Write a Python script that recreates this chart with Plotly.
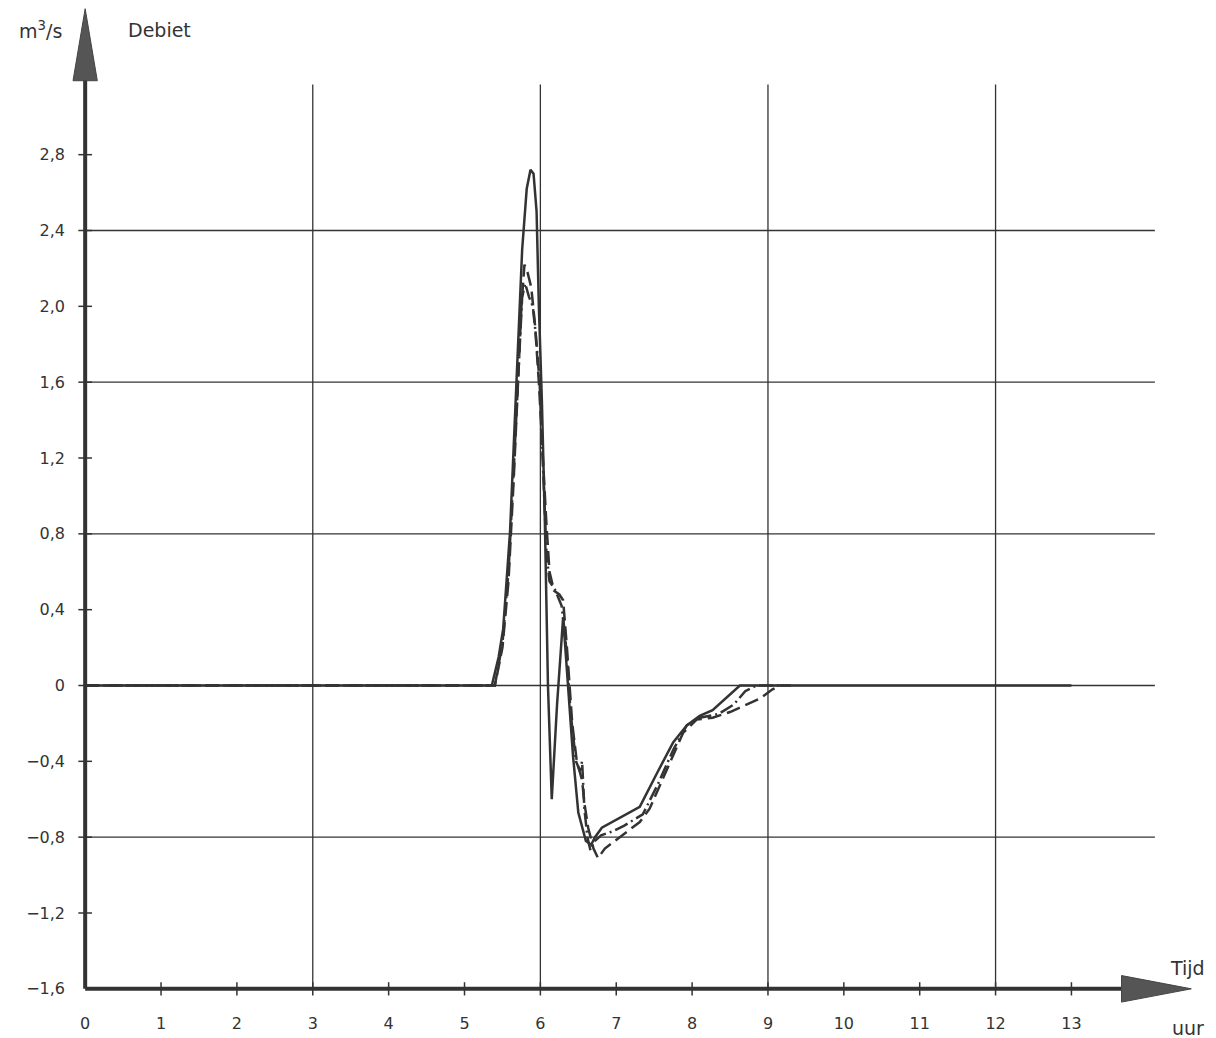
import plotly.graph_objects as go

# ---- data ----
x_ticks = list(range(0, 14))
y_ticks = [-1.6, -1.2, -0.8, -0.4, 0, 0.4, 0.8, 1.2, 1.6, 2.0, 2.4, 2.8]
y_tick_labels = ["−1,6", "−1,2", "−0,8", "−0,4", "0", "0,4", "0,8", "1,2", "1,6", "2,0", "2,4", "2,8"]
grid_x = [3, 6, 9, 12]
grid_y = [2.4, 1.6, 0.8, 0, -0.8]

t_solid = [0, 5.36, 5.45, 5.51, 5.60, 5.67, 5.72, 5.76, 5.82, 5.87, 5.91, 5.95, 5.98, 6.02, 6.06,
           6.10, 6.15, 6.22, 6.30, 6.36, 6.43, 6.50, 6.60, 6.67, 6.72, 6.81, 7.14, 7.31, 7.54, 7.75,
           7.93, 8.10, 8.27, 8.46, 8.63, 13.0]
q_solid = [0, 0, 0.15, 0.30, 0.81, 1.45, 1.90, 2.30, 2.62, 2.72, 2.70, 2.50, 2.00, 1.50, 0.85,
           0.0, -0.60, -0.10, 0.36, 0.0, -0.37, -0.67, -0.82, -0.84, -0.80, -0.75, -0.68, -0.64, -0.46, -0.30,
           -0.21, -0.16, -0.13, -0.06, 0.0, 0.0]

t_dash = [0, 5.40, 5.50, 5.58, 5.65, 5.70, 5.75, 5.79, 5.83, 5.88, 5.93, 5.98, 6.03, 6.08, 6.12,
          6.18, 6.25, 6.30, 6.35, 6.42, 6.48, 6.55, 6.58, 6.63, 6.70, 6.76, 6.85, 7.05, 7.31, 7.44,
          7.67, 7.88, 8.06, 8.27, 8.50, 8.72, 8.89, 9.06, 9.16, 9.30]
q_dash = [0, 0, 0.20, 0.55, 1.10, 1.55, 2.00, 2.22, 2.18, 2.10, 1.90, 1.60, 1.20, 0.85, 0.60,
          0.50, 0.48, 0.45, 0.20, -0.20, -0.40, -0.50, -0.62, -0.75, -0.86, -0.91, -0.86, -0.80, -0.72, -0.65,
          -0.44, -0.25, -0.18, -0.17, -0.14, -0.10, -0.07, -0.02, 0.0, 0.0]

t_dashdot = [0, 5.40, 5.50, 5.58, 5.65, 5.72, 5.76, 5.80, 5.85, 5.90, 5.94, 5.99, 6.04, 6.08, 6.12,
             6.20, 6.28, 6.33, 6.40, 6.47, 6.52, 6.55, 6.58, 6.62, 6.66, 6.72, 6.80, 6.95, 7.10, 7.35,
             7.55, 7.75, 7.93, 8.10, 8.35, 8.55, 8.70, 8.85, 9.20]
q_dashdot = [0, 0, 0.22, 0.60, 1.15, 1.75, 2.05, 2.12, 2.05, 2.00, 1.85, 1.60, 1.10, 0.70, 0.55,
             0.50, 0.42, 0.25, -0.15, -0.40, -0.45, -0.40, -0.65, -0.80, -0.87, -0.82, -0.79, -0.77, -0.74, -0.68,
             -0.52, -0.34, -0.21, -0.17, -0.15, -0.10, -0.03, 0.0, 0.0]

INK = "#333333"
FONT = "DejaVu Sans"

fig = go.Figure()
fig.add_trace(go.Scatter(x=t_dash, y=q_dash, mode="lines",
                         line=dict(color=INK, width=2.5, dash="14px,6px"), name="dash"))
fig.add_trace(go.Scatter(x=t_dashdot, y=q_dashdot, mode="lines",
                         line=dict(color=INK, width=2.5, dash="14px,4px,2px,4px"), name="dashdot"))
fig.add_trace(go.Scatter(x=t_solid, y=q_solid, mode="lines",
                         line=dict(color=INK, width=2.5), name="solid"))

shapes = []
# grid
for gy in grid_y:
    shapes.append(dict(type="line", xref="x", yref="y", x0=0, x1=14.1, y0=gy, y1=gy,
                       line=dict(color=INK, width=1.3), layer="below"))
for gx in grid_x:
    shapes.append(dict(type="line", xref="x", yref="y", x0=gx, x1=gx, y0=-1.6, y1=3.17,
                       line=dict(color=INK, width=1.3), layer="below"))
# axes
shapes.append(dict(type="line", xref="x", yref="y", x0=0, x1=0, y0=-1.6, y1=3.25,
                   line=dict(color=INK, width=4)))
shapes.append(dict(type="line", xref="x", yref="y", x0=0, x1=13.8, y0=-1.6, y1=-1.6,
                   line=dict(color=INK, width=4)))
# tick marks
for xt in x_ticks[1:]:
    shapes.append(dict(type="line", xref="x", yref="y", x0=xt, x1=xt, y0=-1.635, y1=-1.565,
                       line=dict(color=INK, width=1.5)))
for yt in y_ticks[1:]:
    shapes.append(dict(type="line", xref="x", yref="y", x0=-0.09, x1=0.09, y0=yt, y1=yt,
                       line=dict(color=INK, width=1.5)))
# arrow heads
shapes.append(dict(type="path", xref="x", yref="y",
                   path="M -0.16,3.19 L 0,3.57 L 0.16,3.19 Z",
                   fillcolor="#555555", line=dict(color="#444444", width=1)))
shapes.append(dict(type="path", xref="x", yref="y",
                   path="M 13.66,-1.53 L 14.58,-1.6 L 13.66,-1.67 Z",
                   fillcolor="#555555", line=dict(color="#444444", width=1)))

label_font = dict(family=FONT, size=19, color=INK)
annotations = [
    dict(x=-0.026, y=0.973, xref="paper", yref="paper", text="m<sup>3</sup>/s", showarrow=False,
         xanchor="center", yanchor="middle", font=label_font),
    dict(x=0.079, y=0.973, xref="paper", yref="paper", text="Debiet", showarrow=False,
         xanchor="center", yanchor="middle", font=label_font),
    dict(x=0.982, y=0.036, xref="paper", yref="paper", text="Tijd", showarrow=False,
         xanchor="center", yanchor="middle", font=label_font),
    dict(x=0.982, y=-0.024, xref="paper", yref="paper", text="uur", showarrow=False,
         xanchor="center", yanchor="middle", font=label_font),
]

fig.update_layout(
    width=1216, height=1038,
    margin=dict(l=70, r=8, t=3, b=34),
    paper_bgcolor="white", plot_bgcolor="white",
    showlegend=False,
    shapes=shapes, annotations=annotations,
    font=dict(family=FONT, size=16, color=INK),
    xaxis=dict(range=[-0.2, 14.8], showgrid=False, zeroline=False, showline=False,
               tickmode="array", tickvals=x_ticks, ticktext=[str(v) for v in x_ticks],
               ticks="", ticklabelstandoff=8, fixedrange=True),
    yaxis=dict(range=[-1.68, 3.6], showgrid=False, zeroline=False, showline=False,
               tickmode="array", tickvals=y_ticks, ticktext=y_tick_labels,
               ticks="", ticklabelstandoff=4, fixedrange=True),
)

fig.write_html("out.html")
